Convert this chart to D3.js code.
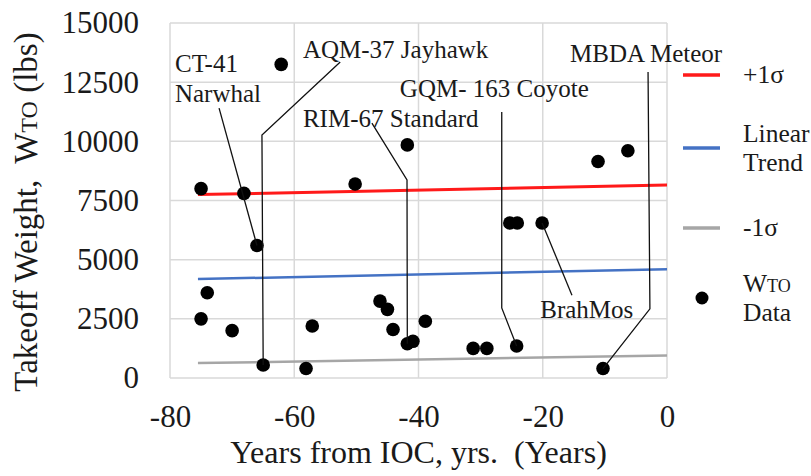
<!DOCTYPE html>
<html>
<head>
<meta charset="utf-8">
<script src="https://cdn.jsdelivr.net/npm/d3@7/dist/d3.min.js"></script>
<style>
  html, body { margin: 0; padding: 0; background: #fff; overflow: hidden; }
  text { font-family: "Liberation Serif", "Times New Roman", serif; fill: #1a1a1a; }
</style>
</head>
<body>
<svg id="chart" width="811" height="476"></svg>
<script>
// ---- data ----
const xTicks = [-80, -60, -40, -20, 0];
const yTicks = [0, 2500, 5000, 7500, 10000, 12500, 15000];

// years from IOC
const years = [-75, -74, -75, -70, -68.1, -66, -65, -62.1, -58.1, -57.1, -50.2, -46.2, -45, -44.1,
               -41.8, -40.9, -41.8, -38.9, -31.2, -29, -24.2, -25.3, -24.1, -20.1, -11.1, -6.3, -10.3];
// takeoff weight (lbs)
const weights = [8000, 3600, 2500, 2000, 7800, 5600, 550, 13250, 400, 2200, 8200, 3250, 2900, 2050,
                 1450, 1550, 9850, 2400, 1250, 1250, 1350, 6550, 6550, 6550, 9150, 9600, 400];

// trend lines: [start year, end year], [start value, end value]
const trendYears = [-75.5, 0];
const plusSigma = [7750, 8150];
const linearTrend = [4180, 4600];
const minusSigma = [630, 950];

// callout annotations: label lines, label anchor (data units), leader path (data units), target point index
const annotations = [
  { lines: ["CT-41", "Narwhal"], at: [-79.2, 12930], path: [[-72.1, 11400]], target: 5 },
  { lines: ["AQM-37 Jayhawk"], at: [-58.6, 13520], path: [[-52.6, 13350], [-65.2, 10270]], target: 6 },
  { lines: ["RIM-67 Standard"], at: [-58.6, 10600], path: [[-47.5, 10770], [-41.85, 8370]], target: 14 },
  { lines: ["GQM- 163 Coyote"], at: [-43.0, 11870], path: [[-26.6, 11240], [-26.6, 2960]], target: 20 },
  { lines: ["BrahMos"], at: [-20.4, 2540], path: [[-15.3, 3500]], target: 23 },
  { lines: ["MBDA Meteor"], at: [-15.6, 13350], path: [[-3.05, 12930], [-2.75, 2920]], target: 26 }
];

const legendItems = [
  { lines: ["+1σ"], type: "line", color: "#ff1a1a" },
  { lines: ["Linear", "Trend"], type: "line", color: "#4472c4" },
  { lines: ["-1σ"], type: "line", color: "#a6a6a6" },
  { lines: ["W|TO", "Data"], type: "dot", color: "#000" }
];

// ---- layout ----
const svg = d3.select("#chart");
const margin = { left: 170, right: 144, top: 23, bottom: 98 };
const W = 811, H = 476;
const x = d3.scaleLinear().domain([-80, 0]).range([margin.left, W - margin.right]);
const y = d3.scaleLinear().domain([0, 15000]).range([H - margin.bottom, margin.top]);

svg.append("rect").attr("width", W).attr("height", H).attr("fill", "#fff");

// gridlines
const grid = svg.append("g");
grid.selectAll(".gx").data(xTicks).enter().append("line")
  .attr("x1", d => x(d)).attr("x2", d => x(d))
  .attr("y1", y(0)).attr("y2", y(15000))
  .attr("stroke", "#d9d9d9").attr("stroke-width", 1.5);
grid.selectAll(".gy").data(yTicks).enter().append("line")
  .attr("x1", x(-80)).attr("x2", x(0))
  .attr("y1", d => y(d)).attr("y2", d => y(d))
  .attr("stroke", "#d9d9d9").attr("stroke-width", 1.5);

// axes (labels only)
const fmt = d => String(d);
const yAxis = d3.axisLeft(y).tickValues(yTicks).tickSize(0).tickPadding(31).tickFormat(fmt);
const gy = svg.append("g").attr("transform", `translate(${x(-80)},0)`).call(yAxis);
gy.select(".domain").remove();
gy.selectAll("text").style("font-family", "Liberation Serif, serif").style("font-size", "31px").attr("fill", "#1a1a1a");

const xAxis = d3.axisBottom(x).tickValues(xTicks).tickSize(0).tickPadding(27).tickFormat(fmt);
const gx = svg.append("g").attr("transform", `translate(0,${y(0)})`).call(xAxis);
gx.select(".domain").remove();
gx.selectAll("text").style("font-family", "Liberation Serif, serif").style("font-size", "31px").attr("fill", "#1a1a1a");

// axis titles
svg.append("text")
  .attr("x", (x(-80) + x(0)) / 2).attr("y", 463)
  .attr("text-anchor", "middle").style("font-size", "32px")
  .text("Years from IOC, yrs.\u00a0 (Years)");

const yt = svg.append("text")
  .attr("transform", `translate(37,212) rotate(-90)`)
  .attr("text-anchor", "middle").style("font-size", "33px");
yt.append("tspan").text("Takeoff Weight,\u00a0 W");
yt.append("tspan").style("font-size", "24px").text("TO");
yt.append("tspan").text(" (lbs)");

// trend lines
const trends = [
  { v: plusSigma, color: "#ff1a1a", w: 3 },
  { v: linearTrend, color: "#4472c4", w: 2.5 },
  { v: minusSigma, color: "#a6a6a6", w: 2.5 }
];
svg.selectAll(".trend").data(trends).enter().append("line")
  .attr("x1", x(trendYears[0])).attr("x2", x(trendYears[1]))
  .attr("y1", d => y(d.v[0])).attr("y2", d => y(d.v[1]))
  .attr("stroke", d => d.color).attr("stroke-width", d => d.w);

// points
const pts = years.map((yr, i) => ({ x: yr, y: weights[i] }));
svg.selectAll(".pt").data(pts).enter().append("circle")
  .attr("cx", d => x(d.x)).attr("cy", d => y(d.y)).attr("r", 6.8).attr("fill", "#000");

// annotations
const line = d3.line().x(d => x(d[0])).y(d => y(d[1]));
annotations.forEach(a => {
  const p = a.path.concat([[pts[a.target].x, pts[a.target].y]]);
  svg.append("path").attr("d", line(p)).attr("fill", "none")
    .attr("stroke", "#111").attr("stroke-width", 1.3);
  const t = svg.append("text").attr("x", x(a.at[0])).attr("y", y(a.at[1])).style("font-size", "25px");
  a.lines.forEach((l, i) => {
    t.append("tspan").attr("x", x(a.at[0])).attr("dy", i === 0 ? 0 : 30).text(l);
  });
});

// legend
const legY = [75, 148, 228, 298];
const leg = svg.append("g");
legendItems.forEach((item, i) => {
  const cy = legY[i];
  if (item.type === "line") {
    leg.append("line").attr("x1", 683).attr("x2", 720).attr("y1", cy).attr("y2", cy)
      .attr("stroke", item.color).attr("stroke-width", 3.5);
  } else {
    leg.append("circle").attr("cx", 702).attr("cy", cy).attr("r", 6.5).attr("fill", item.color);
  }
  const n = item.lines.length;
  item.lines.forEach((l, j) => {
    const ty = cy + 8 + (j - (n - 1) / 2) * 29;
    const t = leg.append("text").attr("x", 743).attr("y", ty).style("font-size", "25.5px");
    if (l.indexOf("|") >= 0) {
      const parts = l.split("|");
      t.append("tspan").text(parts[0]);
      t.append("tspan").style("font-size", "18px").text(parts[1]);
    } else {
      t.text(l);
    }
  });
});
</script>
</body>
</html>
